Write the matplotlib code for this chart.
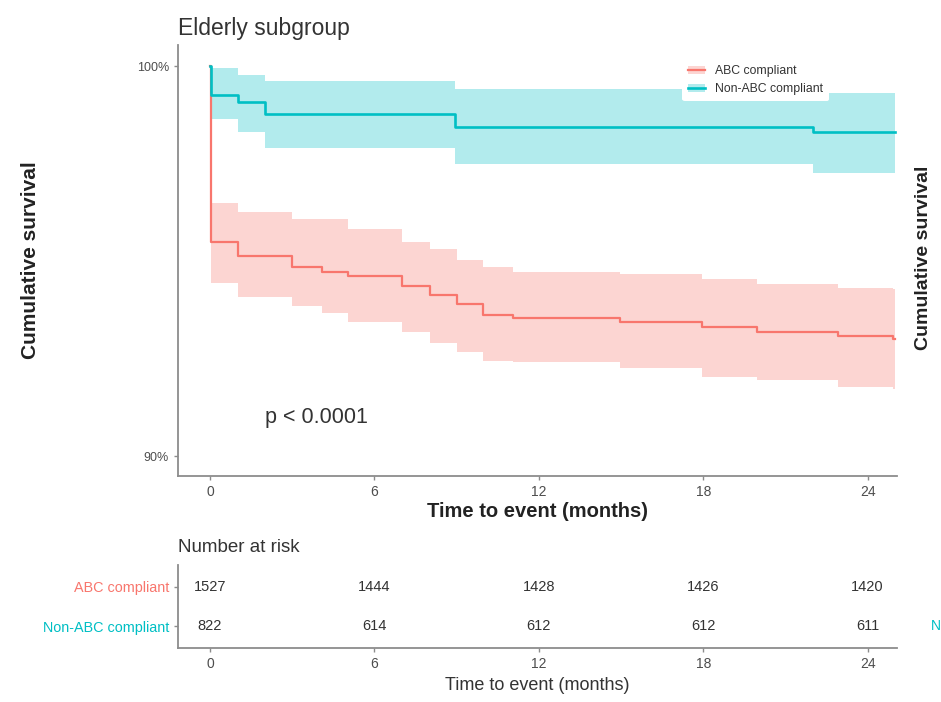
import matplotlib
matplotlib.use("Agg")
import matplotlib.pyplot as plt
from matplotlib.patches import Patch
from matplotlib.lines import Line2D

plt.rcParams['font.family'] = ['Liberation Sans', 'DejaVu Sans']

# ---- data (survival in %) ----
red_times = [0, 0.02, 1.02, 2.99, 4.09, 5.04, 7.0, 8.03, 9.01, 9.96, 11.06, 14.96, 17.96, 19.96, 22.92, 24.93, 25.0]
red_surv  = [100, 95.49, 95.13, 94.87, 94.74, 94.62, 94.36, 94.15, 93.90, 93.64, 93.56, 93.44, 93.31, 93.18, 93.08, 93.00, 93.00]
red_upper = [100, 96.51, 96.26, 96.08, 96.08, 95.82, 95.51, 95.31, 95.05, 94.85, 94.74, 94.67, 94.54, 94.41, 94.33, 94.30, 94.30]
red_lower = [100, 94.46, 94.10, 93.85, 93.69, 93.44, 93.18, 92.92, 92.69, 92.44, 92.41, 92.28, 92.05, 91.97, 91.79, 91.72, 91.72]

teal_times = [0, 0.02, 1.02, 2.0, 8.95, 22.0, 25.0]
teal_surv  = [100, 99.28, 99.10, 98.77, 98.44, 98.31, 98.31]
teal_upper = [100, 99.97, 99.79, 99.62, 99.41, 99.33, 99.33]
teal_lower = [100, 98.64, 98.33, 97.92, 97.49, 97.28, 97.28]

groups = ["ABC compliant", "Non-ABC compliant"]
risk_times = [0, 6, 12, 18, 24]
risk_abc = [1527, 1444, 1428, 1426, 1420]
risk_non = [822, 614, 612, 612, 611]

RED = "#F8766D"
TEAL = "#00BFC4"
AXC = "#8c8c8c"
TXC = "#4d4d4d"

W, H = 941, 702
fig = plt.figure(figsize=(W / 100, H / 100), dpi=100)

def fx(px):
    return px / W

def fy(py):
    return 1 - py / H

# ---- main survival axes ----
ax = fig.add_axes([fx(178), fy(476), fx(897) - fx(178), fy(45) - fy(476)])
ax.fill_between(red_times, red_lower, red_upper, step='post', color=RED, alpha=0.3, lw=0)
ax.fill_between(teal_times, teal_lower, teal_upper, step='post', color=TEAL, alpha=0.3, lw=0)
ax.step(red_times, red_surv, where='post', color=RED, lw=1.6)
ax.step(teal_times, teal_surv, where='post', color=TEAL, lw=1.9)

ax.set_xlim(-1.17, 25.07)
ax.set_ylim(89.5, 100.55)
ax.set_xticks(risk_times)
ax.set_yticks([90, 100])
ax.set_yticklabels(["90%", "100%"])
for s in ['top', 'right']:
    ax.spines[s].set_visible(False)
for s in ['left', 'bottom']:
    ax.spines[s].set_color(AXC)
    ax.spines[s].set_linewidth(1.3)
ax.tick_params(axis='y', labelsize=9, colors=AXC, labelcolor=TXC, length=3, width=1)
ax.tick_params(axis='x', labelsize=10, colors=AXC, labelcolor=TXC, length=3, width=1)
ax.set_xlabel("Time to event (months)", fontsize=14.5, fontweight='bold', labelpad=2, color='#222222')

ax.text(2.0, 91.0, "p < 0.0001", fontsize=15.5, color='#333333', ha='left', va='center')

handles = [(Patch(facecolor=RED, alpha=0.3, lw=0), Line2D([], [], color=RED, lw=1.6)),
           (Patch(facecolor=TEAL, alpha=0.3, lw=0), Line2D([], [], color=TEAL, lw=1.9))]
leg = ax.legend(handles, groups, loc='upper left', bbox_to_anchor=(fx(676), fy(53)),
                bbox_transform=fig.transFigure, fontsize=8.8, frameon=True, framealpha=1,
                facecolor='white', edgecolor='none', handlelength=1.4, borderpad=0.5,
                labelspacing=0.5, handletextpad=0.8)
for t in leg.get_texts():
    t.set_color('#333333')

fig.text(fx(178), fy(28), "Elderly subgroup", fontsize=16.5, color='#333333', ha='left', va='center')
fig.text(fx(30), fy(260), "Cumulative survival", fontsize=15, fontweight='bold', rotation=90,
         ha='center', va='center', color='#222222')
fig.text(fx(923), fy(258), "Cumulative survival", fontsize=14, fontweight='bold', rotation=90,
         ha='center', va='center', color='#222222')

# ---- risk table ----
rax = fig.add_axes([fx(178), fy(648), fx(897) - fx(178), fy(565) - fy(648)])
rax.set_xlim(-1.17, 25.07)
rax.set_ylim(0.44, 2.56)
for t, v in zip(risk_times, risk_abc):
    rax.text(t, 2, str(v), ha='center', va='center', fontsize=10.5, color='#333333')
for t, v in zip(risk_times, risk_non):
    rax.text(t, 1, str(v), ha='center', va='center', fontsize=10.5, color='#333333')
rax.set_xticks(risk_times)
rax.set_yticks([2, 1])
rax.set_yticklabels(groups)
for s in ['top', 'right']:
    rax.spines[s].set_visible(False)
for s in ['left', 'bottom']:
    rax.spines[s].set_color(AXC)
    rax.spines[s].set_linewidth(1.3)
rax.tick_params(axis='y', labelsize=10.4, colors=AXC, length=3, width=1)
for lab, c in zip(rax.get_yticklabels(), [RED, TEAL]):
    lab.set_color(c)
rax.tick_params(axis='x', labelsize=10, colors=AXC, labelcolor=TXC, length=3, width=1)
rax.set_xlabel("Time to event (months)", fontsize=13, labelpad=4, color='#333333')
fig.text(fx(178), fy(548), "Number at risk", fontsize=13.5, color='#333333', ha='left', va='center')
fig.text(fx(931), fy(626), "N", fontsize=10, color=TEAL, ha='left', va='center')

fig.savefig("out.png", dpi=100)
